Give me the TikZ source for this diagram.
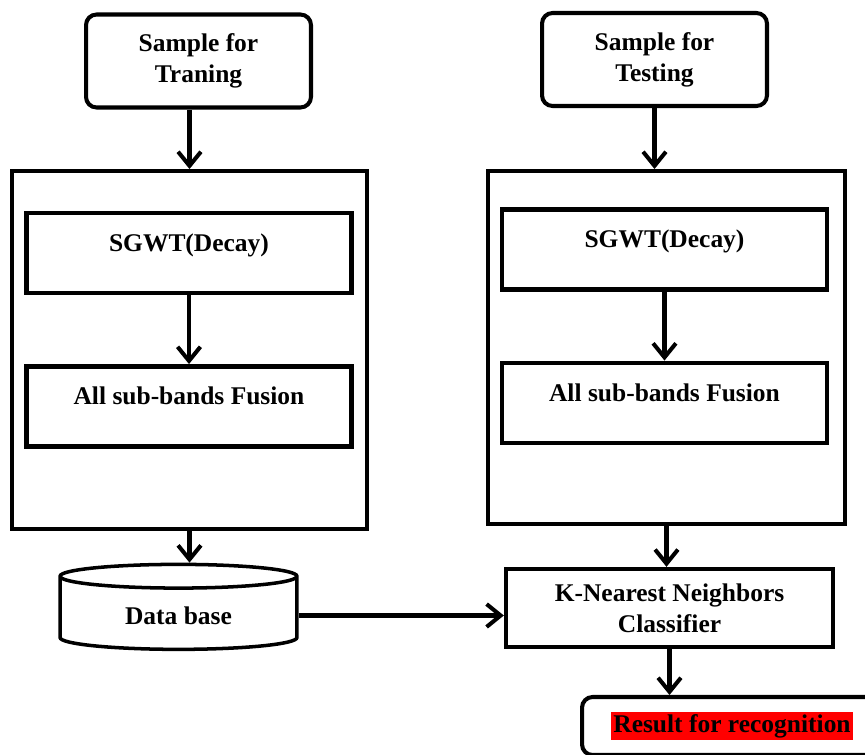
\documentclass[tikz,border=0pt]{standalone}
\usepackage{fontspec}
\setmainfont{Liberation Serif}
\usepackage{xcolor}
\usepackage{tikz}
\usetikzlibrary{shapes.geometric,arrows.meta,positioning,calc}

\begin{document}
\begin{tikzpicture}[
  x=0.02cm, y=-0.02cm,
  every node/.style={font=\fontsize{14.5}{17.5}\selectfont\bfseries, align=center},
  sample/.style={draw, rounded corners=6pt, line width=2.3pt, minimum width=4.5cm, minimum height=1.86cm},
  outer/.style={draw, line width=2.3pt, inner sep=0pt},
  inbox/.style={draw, line width=2.8pt, minimum width=6.5cm, inner xsep=0pt, inner ysep=0pt, text height=0.76cm, text depth=0.84cm},
  dbase/.style={draw, cylinder, shape border rotate=90, aspect=0.2, line width=2pt, minimum width=4.74cm, minimum height=1.7cm},
  clsbox/.style={draw, line width=2.5pt, minimum width=6.54cm, minimum height=1.56cm},
  resbox/.style={draw, rounded corners=6pt, line width=2.3pt, minimum width=6.4cm, minimum height=1.16cm},
  flow/.style={-{Straight Barb[length=8pt, width=13pt, line width=2.3pt]}, line width=2.5pt},
]
\useasboundingbox (0,0) rectangle (865,754);

\node[sample] (train) at (198.5,61) {Sample for\\Traning};
\node[sample] (test) at (654.5,59.5) {Sample for\\Testing};

\node[outer, minimum width=7.1cm, minimum height=7.16cm] (outerL) at (189.5,350) {};
\node[outer, minimum width=7.14cm, minimum height=7.06cm] (outerR) at (666.5,347.5) {};

\node[inbox] (sgwtL) at (189,253) {SGWT(Decay)};
\node[inbox] (fusL) at (189,406.5) {All sub-bands Fusion};
\node[inbox] (sgwtR) at (664.5,249.5) {SGWT(Decay)};
\node[inbox] (fusR) at (664.5,403) {All sub-bands Fusion};

\node[dbase] (db) at (178.5,615.5) {Data base};
\node[clsbox] (knn) at (669.5,608) {K-Nearest Neighbors\\Classifier};

\node[resbox] (res) at (742,726) {};
\node[fill=red, inner sep=1.5pt] (restxt) at (732,726) {Result for recognition};

\draw[flow] (outerL.north |- train.south) -- (outerL.north);
\draw[flow] (test.south) -- (test.south |- outerR.north);
\draw[flow] (sgwtL) -- (fusL);
\draw[flow] (sgwtR) -- (fusR);
\draw[flow] (outerL.south) -- (outerL.south |- db.north);
\draw[flow] (outerR.south) -- (outerR.south |- knn.north);
\draw[flow] (db.east) -- (db.east -| knn.west);
\draw[flow] (knn.south) -- (knn.south |- res.north);
\end{tikzpicture}
\end{document}
